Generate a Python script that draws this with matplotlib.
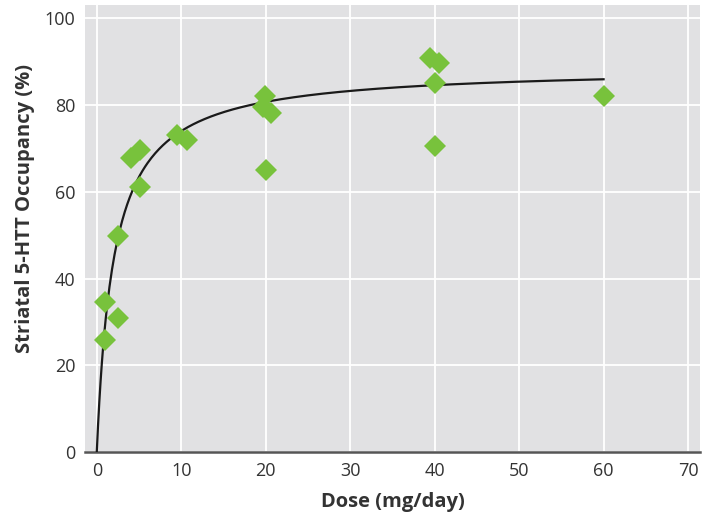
import numpy as np
import matplotlib.pyplot as plt

# dose (mg/day) and striatal 5-HTT occupancy (%) per subject
dose = [1.0, 1.0, 2.5, 2.5, 4.1, 5.1, 5.1, 9.5, 10.7,
        19.9, 19.7, 20.6, 20.0, 39.5, 40.5, 40.0, 40.0, 60.0]
occupancy = [34.6, 25.8, 30.9, 49.8, 67.7, 69.6, 61.0, 73.1, 72.0,
             82.1, 79.6, 78.1, 65.1, 90.8, 89.6, 85.0, 70.6, 82.1]

# hyperbolic (Emax) fit drawn through the points
emax = 88.8
ed50 = 2.0

xticks = [0, 10, 20, 30, 40, 50, 60, 70]
yticks = [0, 20, 40, 60, 80, 100]

plt.rcParams['font.family'] = ['Open Sans', 'DejaVu Sans']

fig = plt.figure(figsize=(7.02, 5.21), dpi=100)
ax = fig.add_axes([0.121, 0.132, 0.876, 0.858])
ax.set_facecolor('#e1e1e3')

d = np.linspace(0, 60, 400)
ax.plot(d, emax * d / (ed50 + d), color='#1a1a1a', lw=1.6, zorder=3)
ax.plot(dose, occupancy, linestyle='none', marker='D', ms=11,
        color='#78c23c', markeredgewidth=0, zorder=4)

ax.set_xlim(-1.4, 71.4)
ax.set_ylim(0, 103)
ax.set_xticks(xticks)
ax.set_yticks(yticks)
ax.grid(True, color='white', lw=1.3)
ax.set_axisbelow(True)

for side in ['top', 'right', 'left']:
    ax.spines[side].set_visible(False)
ax.spines['bottom'].set_color('#555555')
ax.spines['bottom'].set_linewidth(1.8)
ax.tick_params(length=0, labelsize=13, colors='#333333', pad=7)

ax.set_xlabel('Dose (mg/day)', fontsize=14.5, fontweight='bold', color='#333333', labelpad=9)
ax.set_ylabel('Striatal 5-HTT Occupancy (%)', fontsize=14.5, fontweight='bold', color='#333333',
              labelpad=7, y=0.546)

fig.savefig('out.png', dpi=100)
